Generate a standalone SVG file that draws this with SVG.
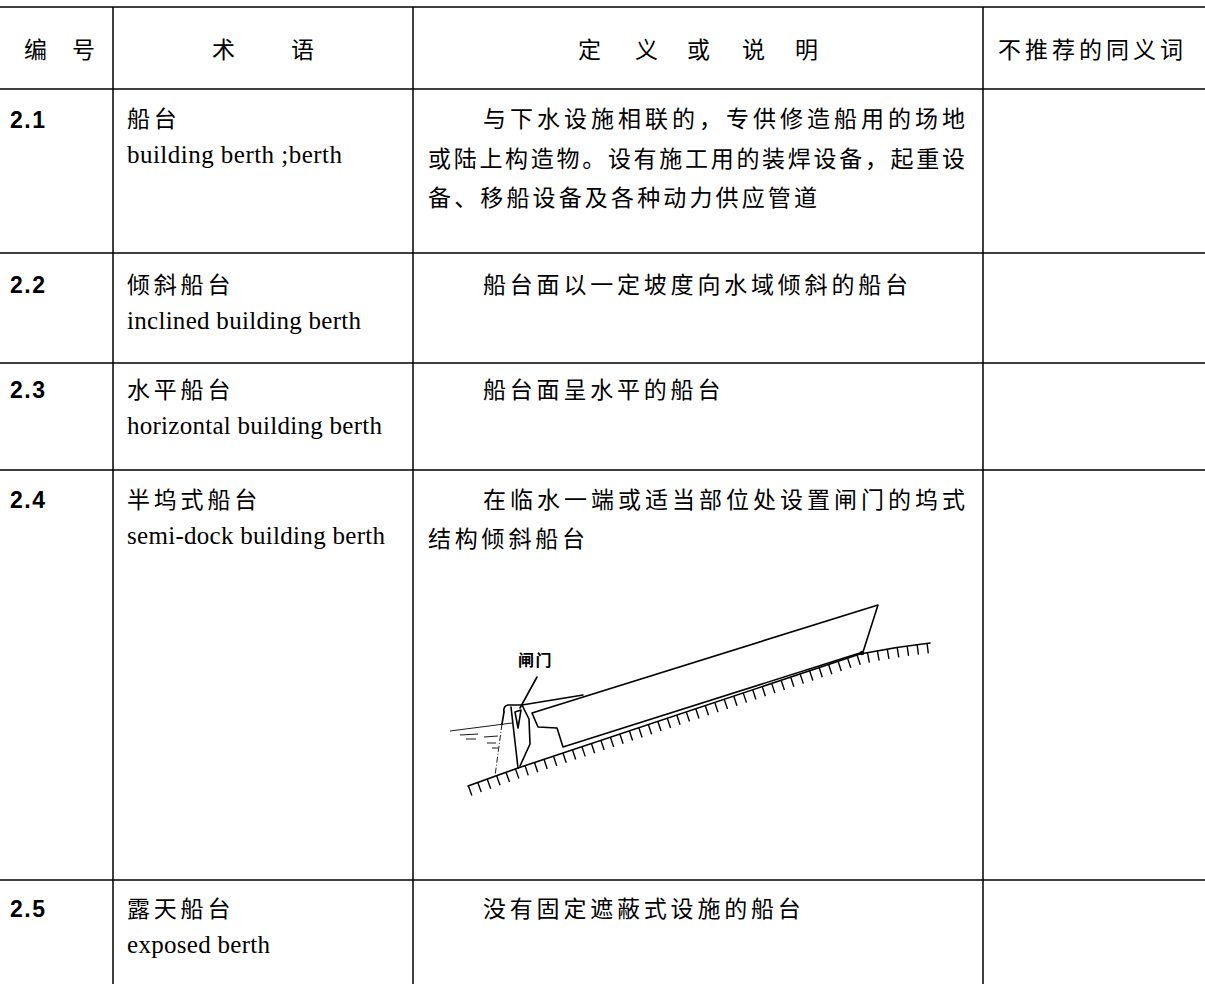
<svg xmlns="http://www.w3.org/2000/svg" width="1205" height="984" viewBox="0 0 1205 984">
<style>
.cn{font-family:"Noto Sans CJK SC","Noto Sans",sans-serif;font-size:23px;fill:#000}
.hd{font-family:"Noto Sans CJK SC","Noto Sans",sans-serif;font-size:23px;fill:#000}
.num{font-family:"Liberation Sans",Arial,sans-serif;font-size:23px;font-weight:bold;letter-spacing:1.5px;fill:#000}
.en{font-family:"Liberation Serif","Times New Roman",serif;font-size:25px;fill:#000}
.ls{letter-spacing:3.8px}
.rule{stroke:#000;stroke-width:1.5;fill:none}
.ln{stroke:#000;stroke-width:1.6;fill:none;stroke-linejoin:round;stroke-linecap:round}
.thin{stroke:#000;stroke-width:0.9;fill:none}
.lbl{font-family:"Noto Sans CJK SC","Noto Sans",sans-serif;font-size:16px;font-weight:bold;letter-spacing:1.5px;fill:#000}
</style>

<g id="table-lines">
  <line class="rule" x1="0" y1="7" x2="1205" y2="7" stroke-width="2.2"/>
  <line class="rule" x1="0" y1="89" x2="1205" y2="89"/>
  <line class="rule" x1="0" y1="253" x2="1205" y2="253"/>
  <line class="rule" x1="0" y1="363" x2="1205" y2="363"/>
  <line class="rule" x1="0" y1="470" x2="1205" y2="470"/>
  <line class="rule" x1="0" y1="880" x2="1205" y2="880"/>
  <line class="rule" x1="113" y1="7" x2="113" y2="984"/>
  <line class="rule" x1="413" y1="7" x2="413" y2="984"/>
  <line class="rule" x1="983" y1="7" x2="983" y2="984"/>
</g>

<g id="header">
  <text class="hd" y="58"><tspan x="24">编</tspan><tspan x="72">号</tspan></text>
  <text class="hd" y="58"><tspan x="212">术</tspan><tspan x="291">语</tspan></text>
  <text class="hd" y="58"><tspan x="578">定</tspan><tspan x="635">义</tspan><tspan x="687">或</tspan><tspan x="742">说</tspan><tspan x="795">明</tspan></text>
  <text class="hd" x="998" y="58" textLength="185" lengthAdjust="spacing">不推荐的同义词</text>
</g>

<g id="row-2-1">
  <text class="num" x="10" y="128">2.1</text>
  <text class="cn ls" x="127" y="127">船台</text>
  <text class="en" x="127" y="163" textLength="215" lengthAdjust="spacing">building berth ;berth</text>
  <text class="cn" x="483" y="127" textLength="482" lengthAdjust="spacing">与下水设施相联的，专供修造船用的场地</text>
  <text class="cn" x="428" y="166.5" textLength="537" lengthAdjust="spacing">或陆上构造物。设有施工用的装焊设备，起重设</text>
  <text class="cn" x="428" y="206" textLength="389" lengthAdjust="spacing">备、移船设备及各种动力供应管道</text>
</g>

<g id="row-2-2">
  <text class="num" x="10" y="293">2.2</text>
  <text class="cn ls" x="127" y="293">倾斜船台</text>
  <text class="en" x="127" y="329" textLength="234" lengthAdjust="spacing">inclined building berth</text>
  <text class="cn ls" x="483" y="293">船台面以一定坡度向水域倾斜的船台</text>
</g>

<g id="row-2-3">
  <text class="num" x="10" y="398">2.3</text>
  <text class="cn ls" x="127" y="398">水平船台</text>
  <text class="en" x="127" y="434" textLength="255" lengthAdjust="spacing">horizontal building berth</text>
  <text class="cn ls" x="483" y="398">船台面呈水平的船台</text>
</g>

<g id="row-2-4">
  <text class="num" x="10" y="508">2.4</text>
  <text class="cn ls" x="127" y="508">半坞式船台</text>
  <text class="en" x="127" y="544" textLength="258" lengthAdjust="spacing">semi-dock building berth</text>
  <text class="cn" x="483" y="508" textLength="482" lengthAdjust="spacing">在临水一端或适当部位处设置闸门的坞式</text>
  <text class="cn ls" x="428" y="547">结构倾斜船台</text>
</g>

<g id="figure-semi-dock">
  <!-- ground / slipway -->
  <path class="ln" d="M468,786 L518,768 L860,654 Q895,647 930,643"/>
  <path d="M469.5,791 L519.5,773 L861.5,659 Q896,652 931,648" fill="none" stroke="#000" stroke-width="10" stroke-dasharray="1.4 8.6"/>
  <!-- ship hull -->
  <path class="ln" d="M532,713 L878,605 L863,652 L563,747 L557,728 L538,727 Z"/>
  <!-- dock wall top -->
  <path class="ln" d="M504,712 Q503,706 508,705 L522,705 L583,695"/>
  <!-- gate -->
  <path class="ln" d="M511,707 L518,768" stroke-width="2.4"/>
  <path class="ln" d="M522,705 L529,719 L530,744 L520,766"/>
  <path class="ln" d="M504,712 L502,724"/>
  <path class="thin" d="M502,724 L495,776" stroke-dasharray="6 2 1 2"/>
  <path class="ln" d="M515,712 L521,710 L518,728 Z" fill="#000" stroke-width="0.8"/>
  <!-- water -->
  <path class="thin" d="M450,731 L512,723"/>
  <path class="thin" d="M460,735 L478,734 M466,739 L476,739 M484,737 L498,736 M487,743 L496,743 M492,748 L498,748"/>
  <!-- bow contact -->
  <circle cx="862" cy="653" r="2.2" fill="#000"/>
  <!-- leader and label -->
  <path class="ln" d="M537,677 L520,708" stroke-width="1.6"/>
  <text class="lbl" x="518" y="666">闸门</text>
</g>

<g id="row-2-5">
  <text class="num" x="10" y="917">2.5</text>
  <text class="cn ls" x="127" y="917">露天船台</text>
  <text class="en" x="127" y="953" textLength="143" lengthAdjust="spacing">exposed berth</text>
  <text class="cn ls" x="483" y="917">没有固定遮蔽式设施的船台</text>
</g>
</svg>
